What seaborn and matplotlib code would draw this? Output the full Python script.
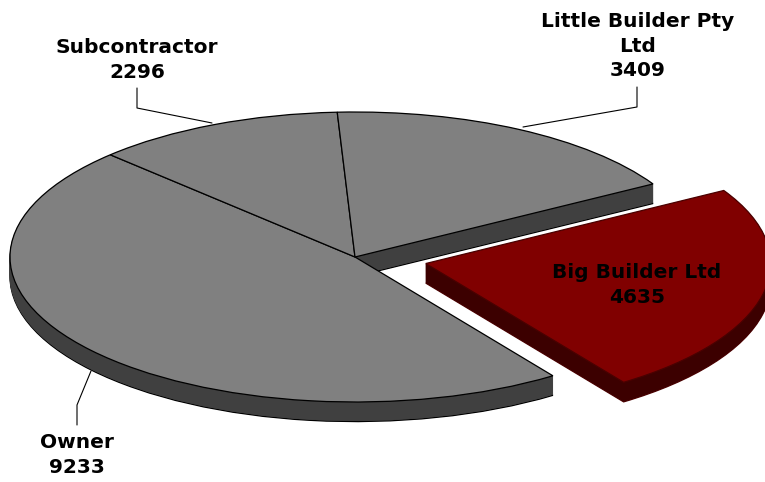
import numpy as np
import matplotlib
matplotlib.use("Agg")
import matplotlib.pyplot as plt
import seaborn as sns

# slice data (clockwise order starting at the Owner/Big cut)
labels = ["Owner", "Subcontractor", "Little Builder Pty\nLtd", "Big Builder Ltd"]
values = [9233, 2296, 3409, 4635]
explode = [0, 0, 0, 0.21]
top_colors = ["#808080", "#808080", "#808080", "#800000"]
side_colors = ["#404040", "#404040", "#404040", "#3c0000"]
edge_colors = ["black", "black", "black", "#4a0000"]

sns.set_theme(style="white")
plt.rcParams['font.family'] = ['DejaVu Sans']

fig = plt.figure(figsize=(7.65, 4.82), dpi=100)
ax = fig.add_axes([0, 0, 1, 1])

# pixel <-> data helpers (pie centre at px (355,257), radii 345 x 145 px)
cx, cy, rx, ry = 355, 257, 345, 145
def to_data(px, py):
    return (px - cx) / rx, (cy - py) / ry

depth = 0.135
nlayers = 20
offsets = np.linspace(depth, 0, nlayers + 1)
for i, d in enumerate(offsets):
    is_top = i == nlayers
    wedges, _ = ax.pie(values, explode=explode, startangle=-55, counterclock=False,
                       center=(0, -d), radius=1,
                       colors=top_colors if is_top else side_colors)
    for w, ec in zip(wedges, edge_colors):
        if is_top or i == 0:
            w.set_edgecolor(ec)
            w.set_linewidth(0.9)
        else:
            w.set_edgecolor(w.get_facecolor())
            w.set_linewidth(0.6)

ax.set_aspect('auto')
x0, y0 = to_data(0, 482)
x1, y1 = to_data(765, 0)
ax.set_xlim(x0, x1)
ax.set_ylim(y0, y1)
ax.axis('off')

# labels
label_pos = [(77, 455), (137, 60), (638, 46), (637, 285)]
for lab, val, (px, py) in zip(labels, values, label_pos):
    x, y = to_data(px, py)
    ax.text(x, y, f"{lab}\n{val}", ha='center', va='center', fontsize=14.5,
            fontweight='bold', color='black', linespacing=1.38, zorder=10)

# leader lines
leaders = [
    [(77, 425), (77, 405), (91, 371)],
    [(137, 88), (137, 108), (212, 123)],
    [(637, 87), (637, 107), (523, 127)],
]
for pts in leaders:
    xs, ys = zip(*[to_data(px, py) for px, py in pts])
    ax.plot(xs, ys, color='black', lw=0.8, zorder=9)

fig.savefig("out.png", dpi=100)
